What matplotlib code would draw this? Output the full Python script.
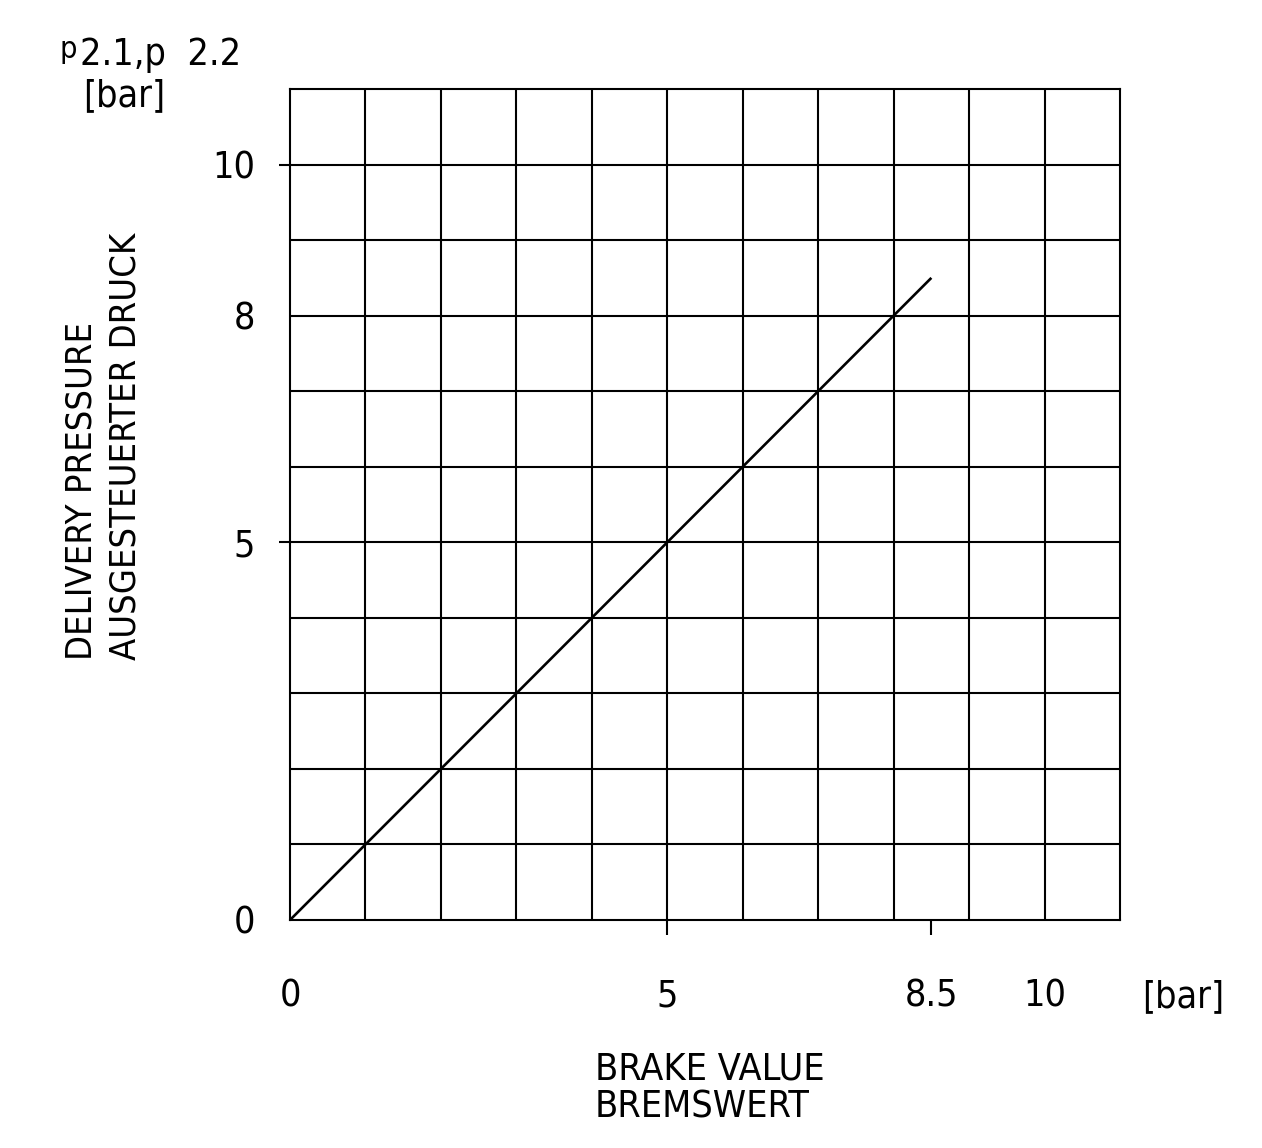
import numpy as np
import matplotlib.pyplot as plt

# data
brake_value = [0, 8.5]
delivery_pressure = [0, 8.5]
x_labels = [0, 5, 8.5, 10]
y_labels = [0, 5, 8, 10]
x_marks = [5, 8.5]
y_marks = [5, 10]

W, H = 1262, 1148
plt.rcParams['font.family'] = ['DejaVu Sans']
plt.rcParams['font.stretch'] = 'condensed'

fig = plt.figure(figsize=(W / 100, H / 100), dpi=100)
ax = fig.add_axes([290 / W, (H - 920) / H, 830 / W, 831 / H])

ax.set_xlim(0, 11)
ax.set_ylim(0, 11)
for v in range(1, 11):
    ax.axvline(v, color='black', lw=1.5)
    ax.axhline(v, color='black', lw=1.5)
for s in ax.spines.values():
    s.set_linewidth(1.5)

ax.plot(brake_value, delivery_pressure, color='black', lw=1.9, solid_capstyle='butt')

ax.xaxis.remove_overlapping_locs = False
ax.yaxis.remove_overlapping_locs = False
ax.set_xticks(x_labels)
ax.set_xticklabels(['0', '5', '8.5', '10'])
ax.set_yticks(y_labels)
ax.set_yticklabels(['0', '5', '8', '10'])
ax.set_xticks(x_marks, minor=True)
ax.set_yticks(y_marks, minor=True)
ax.tick_params(which='major', length=0, labelsize=27)
ax.tick_params(axis='x', which='major', pad=42)
ax.tick_params(axis='y', which='major', pad=25)
ax.tick_params(axis='x', which='minor', length=11, width=1.5, direction='out')
ax.tick_params(axis='y', which='minor', length=8, width=1.5, direction='out')

fs = 27
fig.text(1183 / W, 1 - 997 / H, '[bar]', fontsize=fs, ha='center', va='center')
fig.text(595 / W, 1 - 1070 / H, 'BRAKE VALUE', fontsize=fs, ha='left', va='center')
fig.text(595 / W, 1 - 1107 / H, 'BREMSWERT', fontsize=fs, ha='left', va='center')
fig.text(82 / W, 1 - 660 / H, 'DELIVERY PRESSURE', fontsize=26, rotation=90,
         ha='center', va='bottom')
fig.text(125 / W, 1 - 660 / H, 'AUSGESTEUERTER DRUCK', fontsize=26, rotation=90,
         ha='center', va='bottom')
fig.text(60 / W, 1 - 50 / H, 'p', fontsize=22, ha='left', va='center')
fig.text(80 / W, 1 - 55 / H, '2.1,p  2.2', fontsize=fs, ha='left', va='center')
fig.text(124 / W, 1 - 96 / H, '[bar]', fontsize=fs, ha='center', va='center')

fig.savefig('out.png', dpi=100)
